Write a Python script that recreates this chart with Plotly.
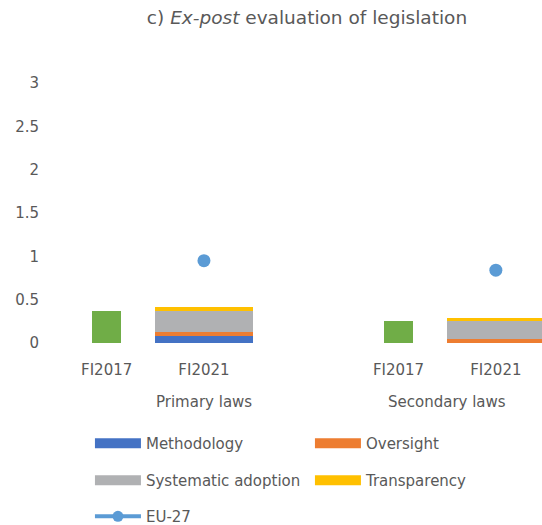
import plotly.graph_objects as go

groups = ["Primary laws", "Secondary laws"]
years = ["FI2017", "FI2021"]
fi2017_total = [0.375, 0.25]
methodology = [0.083, 0.0]
oversight = [0.042, 0.042]
systematic = [0.25, 0.208]
transparency = [0.042, 0.042]
eu27 = [0.95, 0.84]

# slot layout: primary group occupies 3 slots (last empty), secondary 2
slots_per_group = [3, 2]
start = [0, 3]
x2017 = [start[g] + 0 for g in range(len(groups))]
x2021 = [start[g] + 1 for g in range(len(groups))]

FONT = "DejaVu Sans"
GREY = "#595959"

fig = go.Figure()
fig.add_trace(go.Bar(x=x2017, y=fi2017_total, width=0.3, marker_color="#70AD47",
                     marker_line_width=0, showlegend=False, name="FI2017"))
series = [("Methodology", methodology, "#4472C4", "legend"),
          ("Oversight", oversight, "#ED7D31", "legend"),
          ("Systematic adoption", systematic, "#B0B1B3", "legend2"),
          ("Transparency", transparency, "#FFC000", "legend2")]
for name, vals, col, lg in series:
    fig.add_trace(go.Bar(x=x2021, y=vals, width=1.0, marker_color=col,
                         marker_line_width=0, name=name, showlegend=False,
                         legendgroup=name))
# legend proxies (wide rectangles)
for name, vals, col, lg in series:
    fig.add_trace(go.Scatter(x=[None], y=[None], mode="lines", name=name,
                             line=dict(color=col, width=11), legendgroup=name,
                             legend=lg))
fig.add_trace(go.Scatter(x=x2021, y=eu27, mode="markers", name="EU-27",
                         marker=dict(color="#5B9BD5", size=13), showlegend=False,
                         legendgroup="eu"))
fig.add_trace(go.Scatter(x=[None], y=[None], mode="lines+markers", name="EU-27",
                         line=dict(color="#5B9BD5", width=4),
                         marker=dict(color="#5B9BD5", size=11), legendgroup="eu",
                         legend="legend3"))

tickvals = x2017 + x2021
ticktext = [years[0]] * len(groups) + [years[1]] * len(groups)

for g, gname in enumerate(groups):
    center = start[g] + (slots_per_group[g] - 1) / 2
    fig.add_annotation(x=center, y=-0.227, xref="x", yref="paper", text=gname,
                       showarrow=False, yanchor="middle",
                       font=dict(family=FONT, size=15, color=GREY))

def leg(y):
    return dict(orientation="h", x=0.066, xanchor="left", y=y, yanchor="top",
                entrywidth=159, entrywidthmode="pixels", traceorder="normal",
                font=dict(family=FONT, size=15, color=GREY), itemwidth=46,
                tracegroupgap=0, bgcolor="rgba(0,0,0,0)")

fig.update_layout(
    width=542, height=525,
    margin=dict(l=58, r=0, t=83, b=182, autoexpand=False),
    paper_bgcolor="white", plot_bgcolor="white",
    barmode="stack", bargap=0,
    font=dict(family=FONT, size=15, color=GREY),
    title=dict(text="c) <i>Ex-post</i> evaluation of legislation",
               x=307 / 542, xanchor="center", y=1 - 18 / 525, yanchor="middle",
               font=dict(family=FONT, size=18.5, color=GREY)),
    xaxis=dict(range=[-0.5, -0.5 + 484 / 97.3], tickvals=tickvals, ticktext=ticktext,
               showgrid=False, zeroline=False, showline=False, ticks="",
               ticklabelstandoff=16),
    yaxis=dict(range=[0, 3], tickvals=[0, 0.5, 1, 1.5, 2, 2.5, 3],
               ticktext=["0", "0.5", "1", "1.5", "2", "2.5", "3"],
               showgrid=False, zeroline=False, showline=False, ticks="",
               ticklabelstandoff=18),
    legend=leg(-0.323),
    legend2=leg(-0.465),
    legend3=leg(-0.604),
)

fig.write_html("out.html", config={"displayModeBar": False},
               post_script="document.body.style.margin='0';document.body.style.overflow='hidden';")
